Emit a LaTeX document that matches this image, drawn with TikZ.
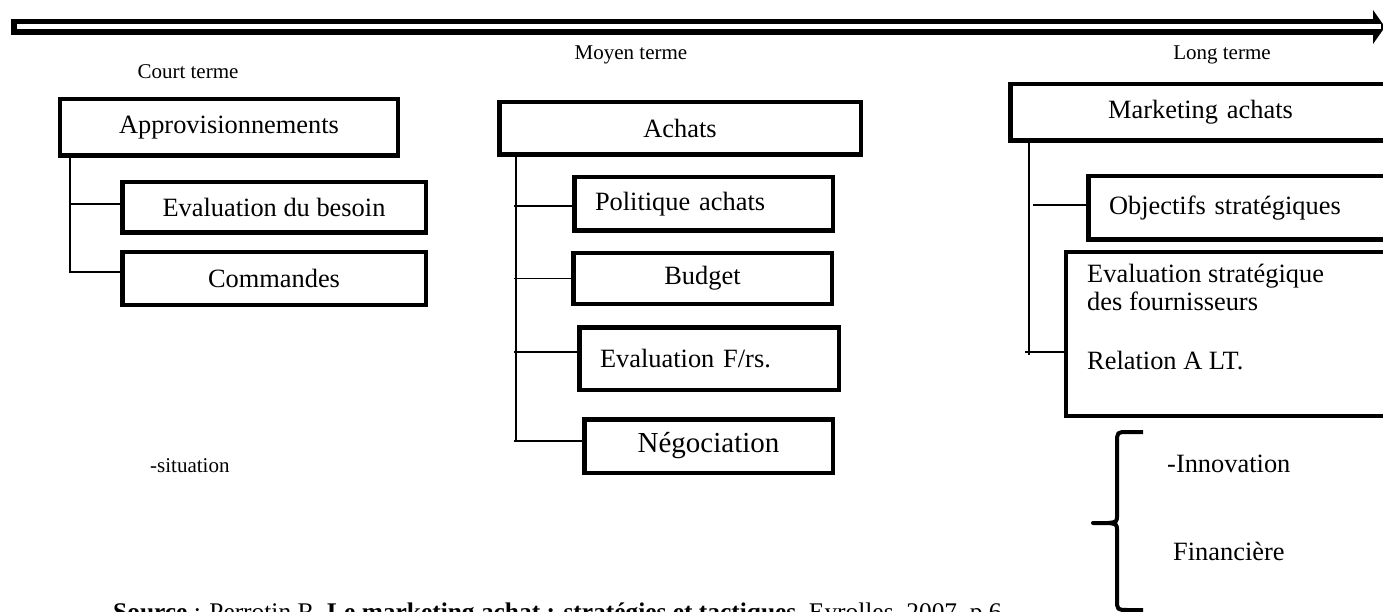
\documentclass[tikz,border=0pt]{standalone}
\usepackage{fontspec}
\setmainfont{Liberation Serif}
\newcommand\boxfont{\fontsize{26.4}{28}\selectfont}
\newcommand\negofont{\fontsize{29}{31}\selectfont}
\newcommand\headfont{\fontsize{21}{25}\selectfont}
\begin{document}
\begin{tikzpicture}[x=1pt,y=-1pt,
  box/.style={draw, line width=4.5pt, rectangle, inner sep=0pt, font=\boxfont},
  lbox/.style={box, align=left, inner xsep=#1},
  tree/.style={line width=1.6pt},
  head/.style={inner sep=0pt, font=\headfont},
  note/.style={inner sep=0pt, font=\boxfont, anchor=mid west}]
\useasboundingbox (0,0) rectangle (1383,612);
\clip (0,0) rectangle (1383,612);

% time axis: hollow double arrow
\coordinate (axL) at (11,19);
\coordinate (axR) at (1374,35);
\coordinate (tipB) at (1373,10);
\coordinate (tip) at (1385,27);
\coordinate (tipE) at (1373,44);
\fill (axL) rectangle (axR);
\fill (tipB) -- (tip) -- (tipE) -- cycle;
\fill[white] (16.5,24) rectangle (1381,29.5);

% column headings
\node[head, anchor=mid] (court) at (188,76) {Court terme};
\node[head, anchor=mid] (moyen) at (631,57) {Moyen terme};
\node[head, anchor=mid] (long) at (1222,57) {Long terme};

% short term
\node[box, minimum width=338pt, minimum height=56.5pt] (appro) at (229,127.5) {Approvisionnements};
\node[box, minimum width=303.5pt, minimum height=50.5pt] (besoin) at (274,207.5) {Evaluation du besoin};
\node[box, minimum width=303.5pt, minimum height=52.5pt] (commandes) at (274,278.5) {Commandes};
\coordinate (cx) at (70,0);
\draw[tree] (appro.south -| cx) |- ([yshift=6.5pt]commandes.west);
\draw[tree] (besoin.west) ++(0,-3.5) coordinate (b1) -- (b1 -| cx);

% medium term
\node[box, minimum width=361.5pt, minimum height=52.5pt] (achats) at (680,128.5) {Achats};
\node[lbox=20.75pt, text width=217pt, minimum height=53.5pt] (politique) at (703.5,204) {Politique achats};
\node[box, minimum width=258.5pt, minimum height=50.5pt] (budget) at (702.5,278.5) {Budget};
\node[lbox=20.75pt, text width=218pt, minimum height=62.5pt] (evalfrs) at (709,358.5) {Evaluation F/rs.};
\node[box, font=\negofont, minimum width=248.5pt, minimum height=53.5pt] (nego) at (708.5,446) {Négociation};
\coordinate (mbot) at (516,441);
\coordinate (mt) at (514,0);
\draw[tree] (achats.south -| mbot) -- (mbot);
\draw[tree] (politique.west) ++(0,2) coordinate (p1) -- (p1 -| mt);
\draw[tree] (budget.west) -- (budget.west -| mt);
\draw[tree] (evalfrs.west) ++(0,-6.5) coordinate (p3) -- (p3 -| mt);
\draw[tree] (nego.west) ++(0,-5) coordinate (p4) -- (p4 -| mt);

% long term
\node[lbox=97.75pt, text width=192pt, minimum height=56.5pt] (marketing) at (1204.1,112.5) {Marketing achats};
\node[lbox=20.75pt, text width=268pt, minimum height=63.5pt] (objectifs) at (1243.1,208) {Objectifs stratégiques};
\node[box, minimum width=331.75pt, minimum height=163.5pt] (evalstrat) at (1232.1,334) {};
\node[note] (es1) at (1087,280) {Evaluation stratégique};
\node[note] (es2) at (1087,308) {des fournisseurs};
\node[note] (es3) at (1087,367) {Relation A LT.};
\coordinate (lbot) at (1029,355);
\coordinate (lo) at (1033,0);
\coordinate (le) at (1025,0);
\draw[tree] (marketing.south -| lbot) -- (lbot);
\draw[tree] (objectifs.west) ++(0,-3) coordinate (o1) -- (o1 -| lo);
\draw[tree] (evalstrat.west) ++(0,18) coordinate (e1) -- (e1 -| le);

% brace grouping the two dimensions
\draw[line width=4pt, line join=round]
  (1143,432) -- (1128,432) .. controls (1117,432) .. (1117,443) -- (1117,515)
  .. controls (1117,522) .. (1108,523) -- (1093,523) -- (1108,523)
  .. controls (1117,524) .. (1117,531) -- (1117,599)
  .. controls (1117,610) .. (1128,610) -- (1143,610);
\node[note] (innov) at (1167,470) {-Innovation};
\node[note] (fin) at (1173,558) {Financière};

\node[head, anchor=mid west] (situ) at (150,470) {-situation};

% reference line
\node[inner sep=0pt, font=\fontsize{25.4}{28}\selectfont, anchor=base west] (source) at (113,620)
  {\textbf{Source} : Perrotin R. \textbf{Le marketing achat : stratégies et tactiques}, Eyrolles, 2007, p.6};
\end{tikzpicture}
\end{document}
